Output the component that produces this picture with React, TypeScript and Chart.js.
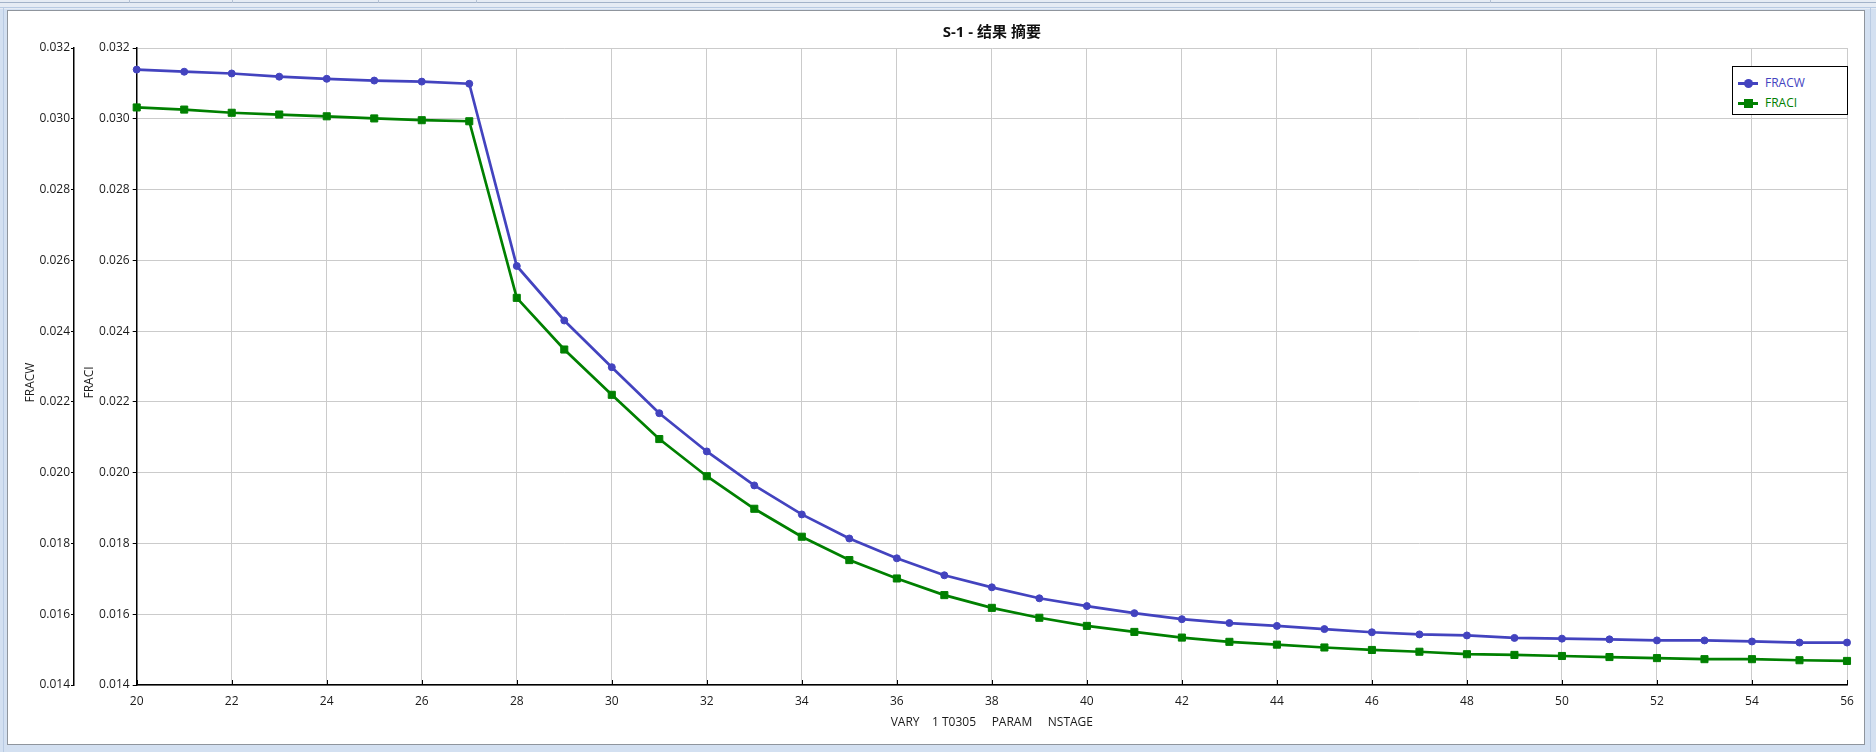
import { useEffect, useRef } from "react";
import { Chart, registerables, Plugin } from "chart.js";

Chart.register(...registerables);

// NSTAGE sweep values (x axis)
const stages = [
  20, 21, 22, 23, 24, 25, 26, 27, 28, 29, 30, 31, 32, 33, 34, 35, 36, 37, 38,
  39, 40, 41, 42, 43, 44, 45, 46, 47, 48, 49, 50, 51, 52, 53, 54, 55, 56,
];

const fracw = [
  0.03139, 0.03133, 0.03128, 0.03119, 0.03113, 0.03108, 0.03105, 0.03099,
  0.02584, 0.0243, 0.02298, 0.02168, 0.0206, 0.01964, 0.01882, 0.01814,
  0.01758, 0.0171, 0.01676, 0.01645, 0.01623, 0.01603, 0.01586, 0.01575,
  0.01567, 0.01558, 0.01549, 0.01543, 0.0154, 0.01533, 0.01531, 0.01529,
  0.01526, 0.01526, 0.01523, 0.0152, 0.0152,
];

const fraci = [
  0.03032, 0.03026, 0.03017, 0.03012, 0.03007, 0.03001, 0.02996, 0.02993,
  0.02494, 0.02348, 0.0222, 0.02095, 0.0199, 0.01898, 0.01819, 0.01753,
  0.01701, 0.01654, 0.01618, 0.0159, 0.01567, 0.0155, 0.01534, 0.01522,
  0.01514, 0.01506, 0.01499, 0.01494, 0.01487, 0.01485, 0.01482, 0.01479,
  0.01476, 0.01473, 0.01473, 0.0147, 0.01468,
];

const seriesNames = ["FRACW", "FRACI"];
const seriesColors = ["#4343bf", "#008000"];
const chartTitle = "S-1 - 结果 摘要";
const xTitle = "VARY    1 T0305     PARAM     NSTAGE";
const yMin = 0.014;
const yMax = 0.032;
const yStep = 0.002;
const xMin = 20;
const xMax = 56;
const xStep = 2;

const FONT = '"Segoe UI", "Open Sans", "Noto Sans CJK SC", sans-serif';

// axis titles + inner tick marks on the x axis
const extrasPlugin: Plugin = {
  id: "extras",
  beforeDatasetsDraw(chart) {
    const { ctx, chartArea, scales } = chart;
    const x = scales.x;
    ctx.save();
    ctx.strokeStyle = "#000";
    ctx.lineWidth = 1;
    x.ticks.forEach((t) => {
      const px = Math.round(x.getPixelForValue(t.value)) + 0.5;
      ctx.beginPath();
      ctx.moveTo(px, chartArea.bottom);
      ctx.lineTo(px, chartArea.bottom - 5);
      ctx.stroke();
    });
    ctx.restore();
  },
  afterDraw(chart) {
    const { ctx, chartArea, scales } = chart;
    ctx.save();
    ctx.font = `12px ${FONT}`;
    ctx.fillStyle = "#1a1a1a";
    ctx.textAlign = "center";
    ctx.textBaseline = "middle";
    const midY = (chartArea.top + chartArea.bottom) / 2 + 16;
    const titles: [string, string, number][] = [
      ["yW", seriesNames[0], 31],
      ["yI", seriesNames[1], 16],
    ];
    titles.forEach(([id, text, off]) => {
      const s = scales[id];
      ctx.save();
      ctx.translate(s.left + off, midY);
      ctx.rotate(-Math.PI / 2);
      ctx.fillText(text, 0, 0);
      ctx.restore();
    });
    ctx.fillText(xTitle, (chartArea.left + chartArea.right) / 2, scales.x.top + 38);
    ctx.restore();
  },
};

function Legend() {
  return (
    <div
      style={{
        position: "absolute",
        left: 1732,
        top: 66,
        width: 116,
        height: 49,
        boxSizing: "border-box",
        border: "1px solid #000",
        background: "#fff",
        fontFamily: FONT,
        fontSize: 12,
      }}
    >
      {seriesNames.map((name, i) => (
        <div
          key={name}
          style={{ position: "absolute", left: 5, top: 8 + i * 20, height: 16, width: 108 }}
        >
          <div
            style={{
              position: "absolute",
              left: 0,
              top: 7,
              width: 20,
              height: 3,
              background: seriesColors[i],
            }}
          />
          <div
            style={{
              position: "absolute",
              left: 5.5,
              top: 4,
              width: 9,
              height: 9,
              borderRadius: i === 0 ? "50%" : 0,
              background: seriesColors[i],
            }}
          />
          <span
            style={{
              position: "absolute",
              left: 27,
              top: 0,
              lineHeight: "16px",
              color: seriesColors[i],
            }}
          >
            {name}
          </span>
        </div>
      ))}
    </div>
  );
}

export default function App() {
  const canvasRef = useRef<HTMLCanvasElement>(null);
  const chartRef = useRef<Chart | null>(null);

  useEffect(() => {
    if (!canvasRef.current) return;
    if (chartRef.current) chartRef.current.destroy();

    const toPoints = (vals: number[]) => stages.map((s, i) => ({ x: s, y: vals[i] }));

    chartRef.current = new Chart(canvasRef.current, {
      type: "line",
      data: {
        datasets: [
          {
            label: seriesNames[0],
            data: toPoints(fracw),
            yAxisID: "yW",
            borderColor: seriesColors[0],
            backgroundColor: seriesColors[0],
            borderWidth: 2.7,
            pointStyle: "circle",
            pointRadius: 3.5,
            pointBorderWidth: 1,
            pointBackgroundColor: seriesColors[0],
            pointBorderColor: seriesColors[0],
            tension: 0,
            clip: false,
          },
          {
            label: seriesNames[1],
            data: toPoints(fraci),
            yAxisID: "yI",
            borderColor: seriesColors[1],
            backgroundColor: seriesColors[1],
            borderWidth: 2.7,
            pointStyle: "rect",
            pointRadius: 5,
            pointBorderWidth: 1,
            pointBackgroundColor: seriesColors[1],
            pointBorderColor: seriesColors[1],
            tension: 0,
            clip: false,
          },
        ],
      },
      options: {
        responsive: true,
        maintainAspectRatio: false,
        animation: false,
        layout: { padding: { left: 0, right: 29, top: 0, bottom: 0 } },
        plugins: {
          legend: { display: false },
          tooltip: { enabled: false },
          title: {
            display: true,
            text: chartTitle,
            fullSize: false,
            color: "#111",
            font: { family: FONT, size: 15, weight: "bold", lineHeight: 1.2 },
            padding: { top: 24, bottom: 6 },
          },
        },
        scales: {
          x: {
            type: "linear",
            min: xMin,
            max: xMax,
            afterFit: (s) => {
              s.height = 67;
            },
            grid: { color: "#cbcbcb", drawTicks: false },
            border: { display: true, color: "#000", width: 1.5 },
            ticks: {
              stepSize: xStep,
              padding: 9,
              color: "#1a1a1a",
              font: { family: FONT, size: 12 },
              callback: (v) => String(v),
            },
          },
          yW: {
            type: "linear",
            position: "left",
            weight: 1,
            min: yMin,
            max: yMax,
            afterFit: (s) => {
              s.width = 74;
            },
            grid: { drawOnChartArea: false, tickLength: 3, tickColor: "#000", color: "#000" },
            border: { display: true, color: "#000", width: 1.5 },
            ticks: {
              stepSize: yStep,
              padding: 1,
              color: "#1a1a1a",
              font: { family: FONT, size: 12 },
              callback: (v) => Number(v).toFixed(3),
            },
          },
          yI: {
            type: "linear",
            position: "left",
            weight: 0,
            min: yMin,
            max: yMax,
            afterFit: (s) => {
              s.width = 62.7;
            },
            grid: { color: "#cbcbcb", tickLength: 4, tickColor: "#000" },
            border: { display: true, color: "#000", width: 1.5 },
            ticks: {
              stepSize: yStep,
              padding: 3,
              color: "#1a1a1a",
              font: { family: FONT, size: 12 },
              callback: (v) => Number(v).toFixed(3),
            },
          },
        },
      },
      plugins: [extrasPlugin],
    });

    return () => {
      if (chartRef.current) {
        chartRef.current.destroy();
        chartRef.current = null;
      }
    };
  }, []);

  return (
    <div
      style={{
        position: "absolute",
        left: 0,
        top: 0,
        width: 1876,
        height: 752,
        background: "#d3e0f1",
        overflow: "hidden",
      }}
    >
      {/* top strip */}
      <div style={{ position: "absolute", left: 0, top: 0, width: 1876, height: 9, background: "#e6ecf4" }} />
      <div style={{ position: "absolute", left: 0, top: 2, width: 1876, height: 1, background: "#a3b3c9" }} />
      <div style={{ position: "absolute", left: 0, top: 7, width: 1876, height: 1, background: "#b9cbe3" }} />
      {[129, 232, 378, 476, 1490].map((x) => (
        <div key={x} style={{ position: "absolute", left: x, top: 0, width: 1, height: 3, background: "#b5c2d4" }} />
      ))}
      {/* side stripes */}
      <div style={{ position: "absolute", left: 3, top: 8, width: 1, height: 744, background: "#b9cbe3" }} />
      <div style={{ position: "absolute", left: 1870, top: 8, width: 1, height: 744, background: "#b9cbe3" }} />
      {/* white panel */}
      <div
        style={{
          position: "absolute",
          left: 7,
          top: 10,
          width: 1858,
          height: 735,
          boxSizing: "border-box",
          border: "1px solid #8f959d",
          background: "#fff",
        }}
      />
      <div style={{ position: "absolute", left: 0, top: 0, width: 1876, height: 752 }}>
        <canvas ref={canvasRef} />
      </div>
      <Legend />
    </div>
  );
}
